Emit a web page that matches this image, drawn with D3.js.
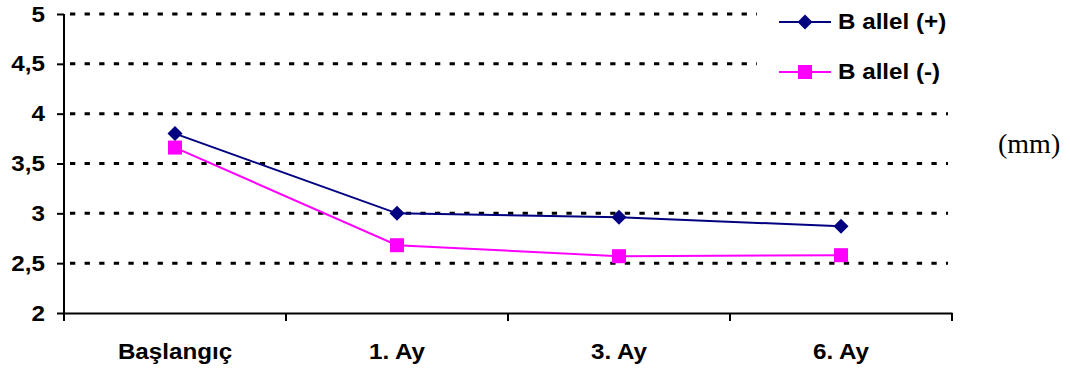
<!DOCTYPE html>
<html>
<head>
<meta charset="utf-8">
<script src="https://cdn.jsdelivr.net/npm/d3@7"></script>
<style>
  body { margin: 0; background: #fff; }
  svg { display: block; }
</style>
</head>
<body>
<script>
// chart data
var categories = ["Başlangıç", "1. Ay", "3. Ay", "6. Ay"];
var seriesNames = ["B allel (+)", "B allel (-)"];
var allelPlus = [3.8, 3.0, 2.96, 2.87];
var allelMinus = [3.66, 2.68, 2.57, 2.58];
var yTicks = [2, 2.5, 3, 3.5, 4, 4.5, 5];
var unitLabel = "(mm)";

var W = 1070, H = 370;
var plotLeft = 64, plotRight = 952, plotTop = 14, plotBottom = 313;
var fontSans = "Liberation Sans, Arial, sans-serif";
var stretch = 1.1; // the original text is a bit wide

var svg = d3.select("body").append("svg")
    .attr("width", W)
    .attr("height", H)

var xScale = d3.scaleBand()
    .domain(categories)
    .range([plotLeft, plotRight])
    .padding(0)

var yScale = d3.scaleLinear()
    .domain([2, 5])
    .range([plotBottom, plotTop])

// dotted gridlines
svg.append("g").selectAll("line")
    .data(yTicks.filter(function (d) { return d > 2; }))
    .enter().append("line")
    .attr("x1", plotLeft + 1)
    .attr("x2", 948)
    .attr("y1", function (d) { return yScale(d); })
    .attr("y2", function (d) { return yScale(d); })
    .attr("stroke", "#000")
    .attr("stroke-width", 3)
    .attr("stroke-dasharray", "5.3,9.3")
    .attr("stroke-dashoffset", -5)

var yAxis = d3.axisLeft(yScale)
    .tickValues(yTicks)
    .tickSize(7)
    .tickPadding(12)
    .tickFormat(function (d) { return String(d).replace(".", ","); })

var gy = svg.append("g")
    .attr("transform", "translate(" + plotLeft + ",0)")
    .call(yAxis)
gy.select(".domain").attr("stroke", "#000").attr("stroke-width", 2)
    .attr("d", "M0," + plotTop + "V" + (plotBottom + 7))
gy.selectAll(".tick line").attr("stroke-width", 2)
gy.selectAll("text")
    .attr("font-family", fontSans)
    .attr("font-size", 22)
    .attr("font-weight", "bold")
    .attr("fill", "#000")
    .attr("x", -19 / stretch)
    .attr("transform", "scale(" + stretch + ",1)")

var xAxis = d3.axisBottom(xScale)
    .tickSize(0)
    .tickPadding(30)

var gx = svg.append("g")
    .attr("transform", "translate(0," + plotBottom + ")")
    .call(xAxis)
gx.select(".domain").attr("stroke", "#000").attr("stroke-width", 2)
gx.selectAll("text")
    .attr("font-family", fontSans)
    .attr("font-size", 22)
    .attr("font-weight", "bold")
    .attr("fill", "#000")
    .attr("transform", "scale(" + stretch + ",1)")

// tick marks between categories
var edges = categories.map(function (c) { return xScale(c); }).concat([plotRight]);
gx.selectAll(".edge")
    .data(edges)
    .enter().append("line")
    .attr("class", "edge")
    .attr("x1", function (d) { return d; })
    .attr("x2", function (d) { return d; })
    .attr("y1", 0)
    .attr("y2", 8)
    .attr("stroke", "#000")
    .attr("stroke-width", 2)

var series = [
    { name: seriesNames[0], values: allelPlus, color: "#000080", shape: "diamond" },
    { name: seriesNames[1], values: allelMinus, color: "#FF00FF", shape: "square" }
];

var line = d3.line()
    .x(function (d, i) { return xScale(categories[i]) + xScale.bandwidth() / 2; })
    .y(function (d) { return yScale(d); })

series.slice().reverse().forEach(function (s) {
    svg.append("path")
        .datum(s.values)
        .attr("d", line)
        .attr("fill", "none")
        .attr("stroke", s.color)
        .attr("stroke-width", 2)
})

function drawMarker(g, s, x, y) {
    if (s.shape === "square") {
        g.append("rect")
            .attr("x", x - 7).attr("y", y - 7)
            .attr("width", 14).attr("height", 14)
            .attr("fill", s.color)
    } else {
        var r = 7.5;
        g.append("path")
            .attr("d", "M" + x + "," + (y - r) + "L" + (x + r) + "," + y + "L" + x + "," + (y + r) + "L" + (x - r) + "," + y + "Z")
            .attr("fill", s.color)
    }
}

series.slice().reverse().forEach(function (s) {
    var g = svg.append("g");
    s.values.forEach(function (v, i) {
        drawMarker(g, s, xScale(categories[i]) + xScale.bandwidth() / 2, yScale(v));
    })
})

// legend box (white, hides the gridlines behind it)
svg.append("rect")
    .attr("x", 757).attr("y", 0)
    .attr("width", 213).attr("height", 100)
    .attr("fill", "#fff")

series.forEach(function (s, i) {
    var ly = 22 + i * 50;
    var g = svg.append("g");
    g.append("line")
        .attr("x1", 779).attr("x2", 831)
        .attr("y1", ly).attr("y2", ly)
        .attr("stroke", s.color)
        .attr("stroke-width", 2)
    drawMarker(g, s, 805, ly);
    g.append("text")
        .attr("x", 838 / stretch)
        .attr("y", ly + 7)
        .attr("transform", "scale(" + stretch + ",1)")
        .attr("font-family", fontSans)
        .attr("font-size", 22)
        .attr("font-weight", "bold")
        .text(s.name)
})

svg.append("text")
    .attr("x", 998)
    .attr("y", 153)
    .attr("font-family", "Liberation Serif, Times New Roman, serif")
    .attr("font-size", 28)
    .text(unitLabel)
</script>
</body>
</html>
